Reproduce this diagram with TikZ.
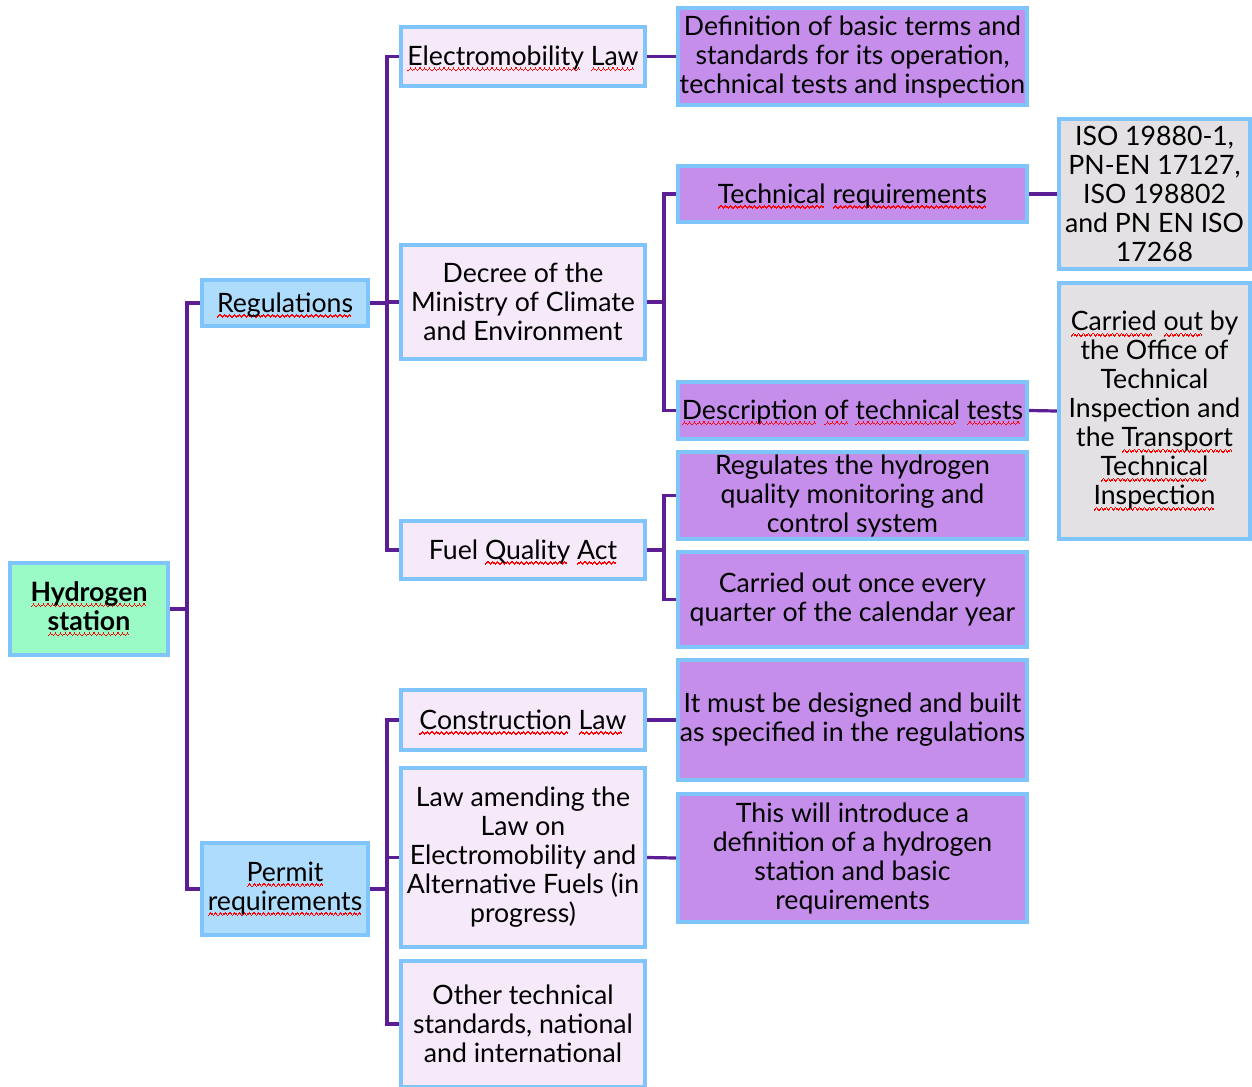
\documentclass[tikz,border=0pt]{standalone}
\usepackage{fontspec}
\setmainfont{Lato}
\usetikzlibrary{backgrounds}

\definecolor{edgeblue}{HTML}{80C4FC}
\definecolor{rootfill}{HTML}{9AFBC6}
\definecolor{catfill}{HTML}{AEDCFC}
\definecolor{lawfill}{HTML}{F5E9FA}
\definecolor{notefill}{HTML}{C58EEB}
\definecolor{stdfill}{HTML}{E3E1E3}
\definecolor{linkpurple}{HTML}{5C1E94}
\definecolor{spellred}{HTML}{FF0000}

% one period of a small zigzag, built from tiny rules
\newsavebox\wavebox
\sbox\wavebox{\color{spellred}\vrule width0.9pt height1.2pt depth0pt\raise0.9pt\hbox{\vrule width0.9pt height1.2pt depth0pt}\raise1.8pt\hbox{\vrule width0.9pt height1.2pt depth0pt}\raise0.9pt\hbox{\vrule width0.9pt height1.2pt depth0pt}}

% red wavy underline under a word
\newcommand\sq[1]{\setbox0\hbox{#1}\leavevmode\rlap{\lower4.4pt\hbox to\wd0{\leaders\copy\wavebox\hfill}}\box0\relax}

\tikzset{
  box/.style={draw=edgeblue, line width=3pt, align=center, inner sep=0pt,
    font=\fontsize{20}{21.75}\selectfont,
    execute at begin node={\rule{0pt}{18pt}}},
  rootbox/.style={box, fill=rootfill, font=\fontsize{20}{21.75}\selectfont\bfseries},
  catbox/.style={box, fill=catfill},
  lawbox/.style={box, fill=lawfill},
  notebox/.style={box, fill=notefill},
  stdbox/.style={box, fill=stdfill},
  link/.style={draw=linkpurple, line width=2.4pt},
}

\begin{document}
\begin{tikzpicture}[x=0.75pt, y=-0.75pt]
\useasboundingbox (0,0) rectangle (1252,1086);

% root and categories
\node[rootbox, minimum width=158*0.75pt, minimum height=92*0.75pt] (root) at (89,609)
  {\sq{Hydrogen}\\\sq{station}};
\node[catbox, minimum width=166*0.75pt, minimum height=46*0.75pt] (reg) at (285,303)
  {\sq{Regulations}};
\node[catbox, minimum width=166*0.75pt, minimum height=92*0.75pt] (permit) at (285,889)
  {\sq{Permit}\\\sq{requirements}};

% acts and laws
\node[lawbox, minimum width=244*0.75pt, minimum height=59*0.75pt] (emob) at (523,56.5)
  {\sq{Electromobility} \sq{Law}};
\node[lawbox, minimum width=244*0.75pt, minimum height=114*0.75pt] (decree) at (523,302)
  {Decree of the\\Ministry of Climate\\and Environment};
\node[lawbox, minimum width=244*0.75pt, minimum height=58*0.75pt] (fuel) at (523,550)
  {Fuel \sq{Quality} \sq{Act}};
\node[lawbox, minimum width=244*0.75pt, minimum height=60*0.75pt] (constr) at (523,720)
  {\sq{Construction} \sq{Law}};
\node[lawbox, minimum width=244*0.75pt, minimum height=179*0.75pt] (amend) at (523,857.5)
  {Law amending the\\Law on\\Electromobility and\\Alternative Fuels (in\\progress)};
\node[lawbox, minimum width=244*0.75pt, minimum height=126*0.75pt] (other) at (523,1024)
  {Other technical\\standards, national\\and international};

% descriptions
\node[notebox, minimum width=349*0.75pt, minimum height=97*0.75pt] (defn) at (852.5,56.5)
  {Definition of basic terms and\\standards for its operation,\\technical tests and inspection};
\node[notebox, minimum width=349*0.75pt, minimum height=56*0.75pt] (techreq) at (852.5,194)
  {\sq{Technical} \sq{requirements}};
\node[notebox, minimum width=349*0.75pt, minimum height=57*0.75pt] (descr) at (852.5,410.5)
  {\sq{Description} \sq{of} \sq{technical} \sq{tests}};
\node[notebox, minimum width=349*0.75pt, minimum height=87*0.75pt] (regul) at (852.5,495.5)
  {Regulates the hydrogen\\quality monitoring and\\control system};
\node[notebox, minimum width=349*0.75pt, minimum height=95*0.75pt] (once) at (852.5,599.5)
  {Carried out once every\\quarter of the calendar year};
\node[notebox, minimum width=349*0.75pt, minimum height=120*0.75pt] (must) at (852.5,720)
  {It must be designed and built\\as specified in the regulations};
\node[notebox, minimum width=349*0.75pt, minimum height=128*0.75pt] (intro) at (852.5,858)
  {This will introduce a\\definition of a hydrogen\\station and basic\\requirements};

% standards and inspection bodies
\node[stdbox, minimum width=191*0.75pt, minimum height=150*0.75pt] (iso) at (1154.5,194)
  {ISO 19880-1,\\PN-EN 17127,\\ISO 198802\\and PN EN ISO\\17268};
\node[stdbox, minimum width=191*0.75pt, minimum height=256*0.75pt] (insp) at (1154.5,411)
  {\sq{Carried} \sq{out} by\\the Office of\\Technical\\Inspection and\\the \sq{Transport}\\\sq{Technical}\\\sq{Inspection}};

% connectors
\begin{pgfonlayer}{background}
  \draw[link] (root.east) -- ++(17,0) coordinate (jroot);
  \draw[link] (jroot) |- (reg.west);
  \draw[link] (jroot) |- (permit.west);

  \draw[link] (reg.east) -- ++(17,0) coordinate (jreg);
  \draw[link] (jreg) |- (emob.west);
  \draw[link] (jreg) |- (decree.west);
  \draw[link] (jreg) |- (fuel.west);

  \draw[link] (permit.east) -- ++(17,0) coordinate (jperm);
  \draw[link] (jperm) |- (constr.west);
  \draw[link] (jperm) |- (amend.west);
  \draw[link] (jperm) |- (other.west);

  \draw[link] (emob.east) -- (defn.west);

  \draw[link] (decree.east) -- ++(17,0) coordinate (jdec);
  \draw[link] (jdec) |- (techreq.west);
  \draw[link] (jdec) |- (descr.west);

  \draw[link] (fuel.east) -- ++(17,0) coordinate (jfuel);
  \draw[link] (jfuel) |- (regul.west);
  \draw[link] (jfuel) |- (once.west);

  \draw[link] (constr.east) -- (must.west);
  \draw[link] (amend.east) -- (intro.west);
  \draw[link] (techreq.east) -- (iso.west);
  \draw[link] (descr.east) -- (insp.west);
\end{pgfonlayer}
\end{tikzpicture}
\end{document}
